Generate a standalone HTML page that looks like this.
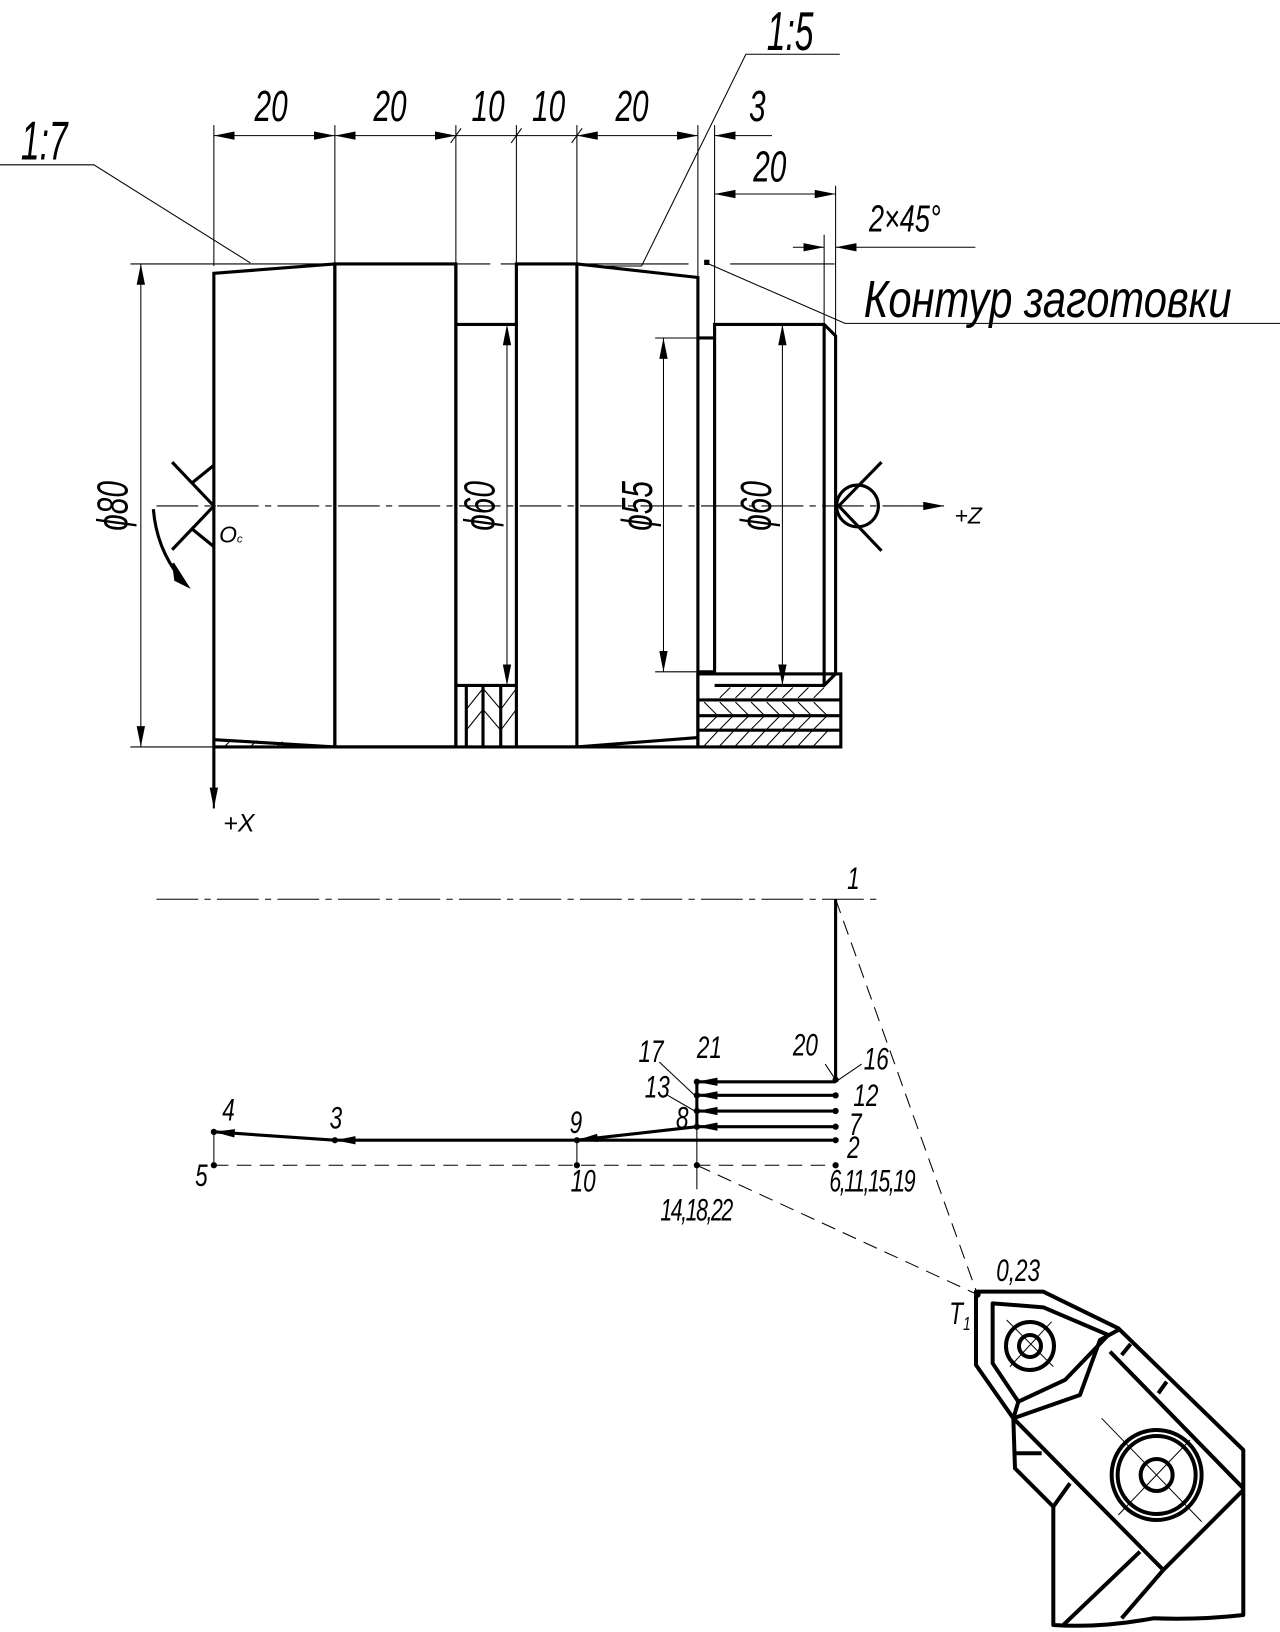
<!DOCTYPE html>
<html><head><meta charset="utf-8"><style>
html,body{margin:0;padding:0;background:#fff;}
svg{display:block}
text{font-family:"Liberation Sans","Noto Sans CJK SC",sans-serif;font-style:italic;fill:#000}
</style></head><body>
<svg width="1280" height="1632" viewBox="0 0 1280 1632" xmlns="http://www.w3.org/2000/svg">
<defs>
<marker id="a" viewBox="0 0 20 8" refX="20" refY="4" markerWidth="20" markerHeight="8" markerUnits="userSpaceOnUse" orient="auto-start-reverse"><path d="M0,0 L20,4 L0,8 z" fill="#000"/></marker>
</defs>
<g transform="scale(1.0432)" stroke="#000" fill="none" stroke-linecap="butt">
<g stroke-width="1">
<line x1="205" y1="120" x2="205" y2="255"/><line x1="321" y1="120" x2="321" y2="253"/>
<line x1="437" y1="120" x2="437" y2="253"/><line x1="495" y1="120" x2="495" y2="253"/>
<line x1="553" y1="120" x2="553" y2="253"/><line x1="669" y1="120" x2="669" y2="266"/>
<line x1="685" y1="120" x2="685" y2="311"/>
<line x1="801" y1="178" x2="801" y2="322"/><line x1="790" y1="225" x2="790" y2="311"/>
<line x1="205" y1="130" x2="321" y2="130" marker-start="url(#a)" marker-end="url(#a)"/>
<line x1="321" y1="130" x2="437" y2="130" marker-start="url(#a)" marker-end="url(#a)"/>
<line x1="437" y1="130" x2="553" y2="130"/>
<line x1="553" y1="130" x2="669" y2="130" marker-start="url(#a)" marker-end="url(#a)"/>
<line x1="432" y1="137" x2="442" y2="123"/><line x1="490" y1="137" x2="500" y2="123"/><line x1="548" y1="137" x2="558" y2="123"/>
<line x1="740" y1="130" x2="685" y2="130" marker-end="url(#a)"/>
<line x1="685" y1="186" x2="801" y2="186" marker-start="url(#a)" marker-end="url(#a)"/>
<line x1="760" y1="237" x2="790" y2="237" marker-end="url(#a)"/>
<line x1="935" y1="237" x2="801" y2="237" marker-end="url(#a)"/>
<line x1="125" y1="253" x2="470" y2="253"/><line x1="480" y1="253" x2="660" y2="253"/><line x1="700" y1="253" x2="800" y2="253"/>
<line x1="125" y1="716" x2="205" y2="716"/>
<line x1="135" y1="253" x2="135" y2="716" marker-start="url(#a)" marker-end="url(#a)"/>
<line x1="486" y1="311" x2="486" y2="657" marker-start="url(#a)" marker-end="url(#a)"/>
<line x1="628" y1="324" x2="669" y2="324"/><line x1="628" y1="644" x2="669" y2="644"/>
<line x1="636" y1="324" x2="636" y2="644" marker-start="url(#a)" marker-end="url(#a)"/>
<line x1="750" y1="311" x2="750" y2="657" marker-start="url(#a)" marker-end="url(#a)"/>
<polyline points="0,158 90,158 240,252"/>
<polyline points="805,52 715,52 615,255 580,255"/>
<polyline points="677,252 810,310 1227,310"/>
<line x1="150" y1="485" x2="870" y2="485" stroke-dasharray="40,6,6,6"/>
<line x1="870" y1="485" x2="905" y2="485" marker-end="url(#a)"/>
</g>
<rect x="675" y="249" width="5" height="5" fill="#000" stroke="none"/>
<g stroke-width="3">
<polyline points="205,716 205,262 321,253 321,716"/>
<line x1="205" y1="716" x2="669" y2="716"/>
<rect x="321" y="253" width="116" height="463"/>
<polyline points="437,253 437,716"/><polyline points="437,311 495,311"/><polyline points="437,657 495,657"/>
<rect x="495" y="253" width="58" height="463"/>
<polyline points="553,253 669,266 669,716"/>
<polyline points="553,716 669,707"/>
<polyline points="205,709 321,716"/>
<line x1="669" y1="324" x2="685" y2="324"/><line x1="669" y1="644" x2="685" y2="644"/>
<polyline points="685,646 685,311 790,311 801,322 801,646 790,657 685,657"/>
<line x1="790" y1="311" x2="790" y2="657"/>
<rect x="669" y="646" width="137" height="70"/>
<line x1="669" y1="671" x2="806" y2="671"/><line x1="669" y1="686" x2="806" y2="686"/><line x1="669" y1="700" x2="806" y2="700"/>
<line x1="447" y1="657" x2="447" y2="716"/><line x1="463" y1="657" x2="463" y2="716"/><line x1="480" y1="657" x2="480" y2="716"/>
<line x1="205" y1="716" x2="205" y2="765"/>
</g>
<g stroke-width="1">
<path d="M690,669 l10,-10 M705,669 l10,-10 M720,669 l10,-10 M735,669 l10,-10 M750,669 l10,-10 M765,669 l10,-10 M780,669 l10,-10"/>
<path d="M675,673 l12,12 M690,673 l12,12 M705,673 l12,12 M720,673 l12,12 M735,673 l12,12 M750,673 l12,12 M765,673 l12,12 M780,673 l12,12"/>
<path d="M675,699 l12,-12 M690,699 l12,-12 M705,699 l12,-12 M720,699 l12,-12 M735,699 l12,-12 M750,699 l12,-12 M765,699 l12,-12 M780,699 l12,-12"/>
<path d="M675,715 l13,-14 M690,715 l13,-14 M705,715 l13,-14 M720,715 l13,-14 M735,715 l13,-14 M750,715 l13,-14 M765,715 l13,-14 M780,715 l13,-14"/>
<path d="M447,680 l16,-20 M447,700 l16,-20 M463,660 l17,20 M463,680 l17,20 M480,680 l15,-20 M480,700 l15,-20"/>
<path d="M215,716 l6,-6 M240,716 l6,-6 M265,716 l6,-5"/>
</g>
<g stroke-width="3">
<polyline points="165,443 205,485 165,527"/>
<line x1="184" y1="463" x2="205" y2="446"/><line x1="184" y1="507" x2="205" y2="524"/>
<polyline points="845,443 804,485 845,528"/>
<circle cx="822" cy="485" r="20"/>
<path d="M147,488 Q150,525 172,553"/>
</g>
<path d="M166,540 L180,562 L168,556 z" fill="#000" stroke="#000" stroke-width="2"/>
<line x1="205" y1="740" x2="205" y2="775" stroke-width="2" marker-end="url(#a)"/>
<g stroke="none" font-size="42">
<text transform="translate(244 116) scale(0.68 1)">20</text>
<text transform="translate(358 116) scale(0.68 1)">20</text>
<text transform="translate(452 116) scale(0.68 1)">10</text>
<text transform="translate(510 116) scale(0.68 1)">10</text>
<text transform="translate(590 116) scale(0.68 1)">20</text>
<text transform="translate(718 116) scale(0.68 1)">3</text>
<text transform="translate(722 174) scale(0.68 1)">20</text>
<text transform="translate(833 222) scale(0.72 1)" font-size="36">2×45°</text>
<text transform="translate(20 153) scale(0.62 1)" font-size="52">1:7</text>
<text transform="translate(735 48) scale(0.62 1)" font-size="52">1:5</text>
<text transform="translate(828 304) scale(0.8 1)" font-size="50">Контур заготовки</text>
<text transform="translate(122 485) rotate(-90) scale(0.68 1)" text-anchor="middle">ϕ80</text>
<text transform="translate(474 485) rotate(-90) scale(0.68 1)" text-anchor="middle">ϕ60</text>
<text transform="translate(625 485) rotate(-90) scale(0.68 1)" text-anchor="middle">ϕ55</text>
<text transform="translate(739 485) rotate(-90) scale(0.68 1)" text-anchor="middle">ϕ60</text>
<text x="210" y="520" font-size="22">O<tspan font-size="11">c</tspan></text>
<text x="214" y="797" font-size="24">+X</text>
<text x="915" y="502" font-size="22">+Z</text>
</g>
<line x1="150" y1="862" x2="845" y2="862" stroke-width="1" stroke-dasharray="40,6,6,6"/>
<g stroke-width="1" stroke-dasharray="14,8">
<line x1="205" y1="1117" x2="801" y2="1117"/>
<line x1="801" y1="862" x2="937" y2="1241"/>
<line x1="668" y1="1117" x2="937" y2="1241"/>
</g>
<g stroke-width="1">
<line x1="205" y1="1085" x2="205" y2="1117"/><line x1="553" y1="1093" x2="553" y2="1117"/>
<line x1="668" y1="1080" x2="668" y2="1140"/>
<line x1="791" y1="1020" x2="801" y2="1035"/><line x1="826" y1="1020" x2="801" y2="1037"/>
<line x1="632" y1="1018" x2="666" y2="1050"/><line x1="640" y1="1050" x2="666" y2="1065"/>
</g>
<g stroke-width="3">
<line x1="801" y1="862" x2="801" y2="1035"/>
<line x1="668" y1="1035" x2="668" y2="1080"/>
<line x1="801" y1="1037" x2="668" y2="1037" marker-end="url(#a)"/>
<line x1="801" y1="1050" x2="668" y2="1050" marker-end="url(#a)"/>
<line x1="801" y1="1065" x2="668" y2="1065" marker-end="url(#a)"/>
<line x1="801" y1="1080" x2="668" y2="1080" marker-end="url(#a)"/>
<line x1="801" y1="1093" x2="553" y2="1093"/>
<line x1="668" y1="1080" x2="553" y2="1093" marker-end="url(#a)"/>
<line x1="553" y1="1093" x2="321" y2="1093" marker-end="url(#a)"/>
<line x1="321" y1="1093" x2="205" y2="1085" marker-end="url(#a)"/>
</g>
<g fill="#000" stroke="none">
<circle cx="801" cy="1035" r="3"/><circle cx="801" cy="1050" r="3"/><circle cx="801" cy="1065" r="3"/><circle cx="801" cy="1080" r="3"/><circle cx="801" cy="1093" r="3"/><circle cx="801" cy="1117" r="3"/>
<circle cx="668" cy="1037" r="3"/><circle cx="668" cy="1050" r="3"/><circle cx="668" cy="1065" r="3"/><circle cx="668" cy="1080" r="3"/><circle cx="668" cy="1117" r="3"/>
<circle cx="553" cy="1093" r="3"/><circle cx="553" cy="1117" r="3"/><circle cx="321" cy="1093" r="3"/>
<circle cx="205" cy="1085" r="3"/><circle cx="205" cy="1117" r="3"/><circle cx="937" cy="1241" r="3"/>
</g>
<g stroke="none" font-size="30">
<text transform="translate(812 852) scale(0.72 1)">1</text>
<text transform="translate(760 1012) scale(0.72 1)">20</text><text transform="translate(828 1025) scale(0.72 1)">16</text><text transform="translate(818 1060) scale(0.72 1)">12</text><text transform="translate(814 1088) scale(0.72 1)">7</text><text transform="translate(812 1110) scale(0.72 1)">2</text>
<text transform="translate(795 1142) scale(0.68 1)" letter-spacing="-2">6,11,15,19</text>
<text transform="translate(668 1014) scale(0.72 1)">21</text><text transform="translate(612 1018) scale(0.72 1)">17</text><text transform="translate(618 1052) scale(0.72 1)">13</text><text transform="translate(648 1082) scale(0.72 1)">8</text>
<text transform="translate(546 1086) scale(0.72 1)">9</text><text transform="translate(316 1082) scale(0.72 1)">3</text><text transform="translate(213 1074) scale(0.72 1)">4</text><text transform="translate(187 1137) scale(0.72 1)">5</text><text transform="translate(547 1142) scale(0.72 1)">10</text>
<text transform="translate(633 1170) scale(0.68 1)" letter-spacing="-2">14,18,22</text>
<text transform="translate(955 1228) scale(0.72 1)">0,23</text><text transform="translate(910 1269) scale(0.72 1)">T<tspan font-size="18" dy="6">1</tspan></text>
</g>
</g>
<g transform="translate(900 1220) scale(0.3333)" stroke="#000" fill="none" stroke-width="12" stroke-linejoin="round">
<path d="M228,215 L430,215 L655,325 L1030,690 L1030,1185 Q900,1200 760,1195 Q600,1225 460,1215 L460,860 L345,745 L340,595 L228,435 Z"/>
<path d="M278,250 L430,262 L625,345 L495,480 L355,545 L278,430 Z"/>
<polyline points="340,595 540,525 600,360 655,330"/>
<polyline points="355,545 340,595"/>
<polyline points="340,595 790,1050 1030,810"/>
<polyline points="630,395 1030,805"/>
<line x1="665" y1="405" x2="692" y2="372"/><line x1="775" y1="520" x2="800" y2="485"/>
<line x1="345" y1="700" x2="425" y2="700"/><line x1="460" y1="860" x2="510" y2="790"/>
<line x1="490" y1="1215" x2="720" y2="995"/><line x1="665" y1="1195" x2="790" y2="1050"/>
<circle cx="390" cy="378" r="72"/><circle cx="390" cy="378" r="33"/>
<circle cx="770" cy="765" r="135"/><circle cx="770" cy="765" r="117"/><circle cx="770" cy="765" r="48"/>
<g stroke-width="3"><line x1="320" y1="300" x2="460" y2="440"/><line x1="455" y1="305" x2="330" y2="440"/>
<line x1="605" y1="595" x2="905" y2="905"/><line x1="870" y1="660" x2="655" y2="885"/></g>
</g>
</svg>
</body></html>
